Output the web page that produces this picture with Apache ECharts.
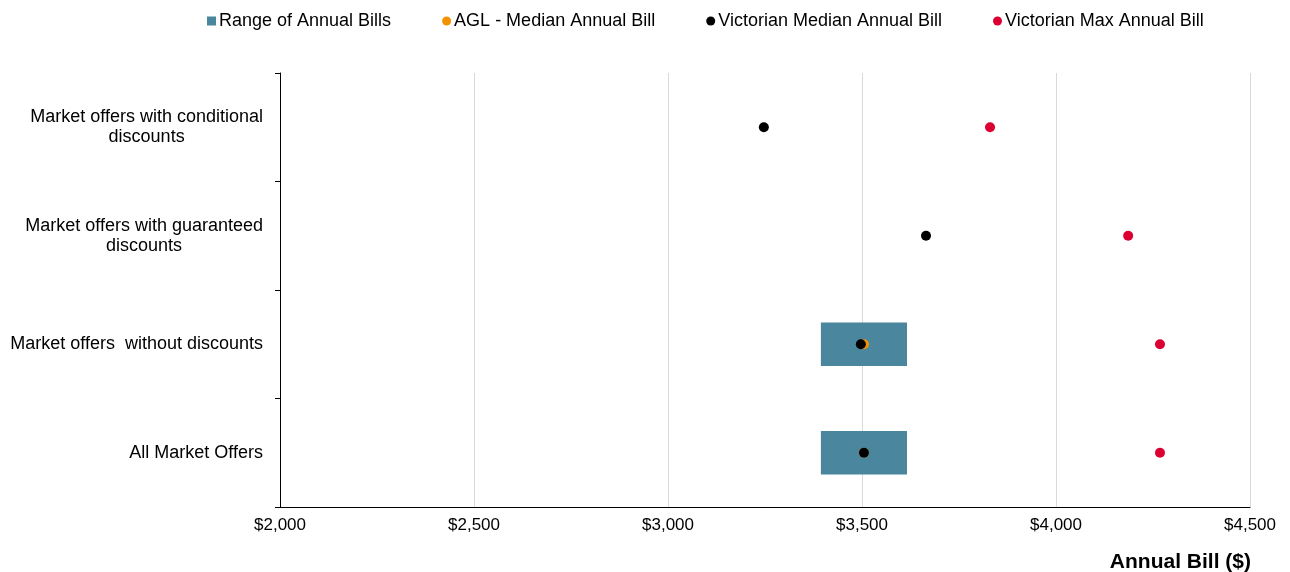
<!DOCTYPE html>
<html><head><meta charset="utf-8">
<script src="https://cdn.jsdelivr.net/npm/echarts@6/dist/echarts.min.js"></script>
<style>html,body{margin:0;padding:0;background:#fff}#c{width:1290px;height:572px}</style>
</head><body><div id="c"></div>
<script>
const categories = [
  'All Market Offers',
  'Market offers  without discounts',
  'Market offers with guaranteed\ndiscounts',
  'Market offers with conditional\ndiscounts'
];
const rangeMin = [3394, 3394, null, null];
const rangeMax = [3616, 3616, null, null];
const aglMedian = [3505, 3505, null, null];
const vicMedian = [3505, 3497, 3665, 3247];
const vicMax = [4268, 4268, 4186, 3830];
const xTicks = { min: 2000, max: 4500, interval: 500 };

const rangeSpan = rangeMin.map((v, i) => v == null ? null : rangeMax[i] - v);
const font = 'Arial, "Liberation Sans", sans-serif';
const fs = 18;

const chart = echarts.init(document.getElementById('c'), null, { renderer: 'canvas' });
chart.setOption({
  animation: false,
  textStyle: { fontFamily: font },
  legend: {
    top: 7, left: 202,
    itemWidth: 9, itemHeight: 9, itemGap: 51,
    textStyle: { fontSize: fs, color: '#000', fontFamily: font, padding: [0, 0, 0, -2] },
    data: [
      { name: 'Range of Annual Bills', icon: 'rect' },
      { name: 'AGL - Median Annual Bill', icon: 'circle' },
      { name: 'Victorian Median Annual Bill', icon: 'circle' },
      { name: 'Victorian Max Annual Bill', icon: 'circle' }
    ]
  },
  title: {
    text: 'Annual Bill ($)', right: 34, top: 547,
    textStyle: { fontSize: 21, fontWeight: 'bold', color: '#000', fontFamily: font }
  },
  grid: { left: 280, right: 40, top: 73, bottom: 65, containLabel: false },
  xAxis: {
    type: 'value', min: xTicks.min, max: xTicks.max, interval: xTicks.interval,
    axisLine: { show: true, lineStyle: { color: '#000', width: 1 } },
    axisTick: { show: false },
    splitLine: { show: true, lineStyle: { color: '#d9d9d9', width: 1 } },
    axisLabel: {
      fontSize: 17, color: '#000', margin: 10, fontFamily: font,
      formatter: v => '$' + v.toLocaleString('en-US')
    }
  },
  yAxis: {
    type: 'category', data: categories,
    axisLine: { show: true, lineStyle: { color: '#000', width: 1 } },
    axisTick: { show: true, length: 5, lineStyle: { color: '#000' } },
    splitLine: { show: false },
    axisLabel: {
      fontSize: fs, color: '#000', margin: 17, align: 'right', lineHeight: 20, fontFamily: font,
      formatter: v => v.split('\n').map(s => '{c|' + s + '}').join('\n'),
      rich: { c: { align: 'center', fontSize: fs, color: '#000', lineHeight: 20, fontFamily: font } }
    }
  },
  series: [
    {
      name: 'base', type: 'bar', stack: 'r', data: rangeMin, barWidth: '40%',
      itemStyle: { color: 'transparent' }, silent: true, legendHoverLink: false
    },
    {
      name: 'Range of Annual Bills', type: 'bar', stack: 'r', data: rangeSpan, barWidth: '40%',
      itemStyle: { color: '#4a869e' }
    },
    {
      name: 'AGL - Median Annual Bill', type: 'scatter', data: aglMedian.map((v, i) => [v, i]),
      symbolSize: 10, itemStyle: { color: '#f39200', opacity: 1 }, z: 3
    },
    {
      name: 'Victorian Median Annual Bill', type: 'scatter', data: vicMedian.map((v, i) => [v, i]),
      symbolSize: 10, itemStyle: { color: '#000000', opacity: 1 }, z: 4
    },
    {
      name: 'Victorian Max Annual Bill', type: 'scatter', data: vicMax.map((v, i) => [v, i]),
      symbolSize: 10, itemStyle: { color: '#dc0032', opacity: 1 }, z: 4
    }
  ]
});
</script>
</body></html>
